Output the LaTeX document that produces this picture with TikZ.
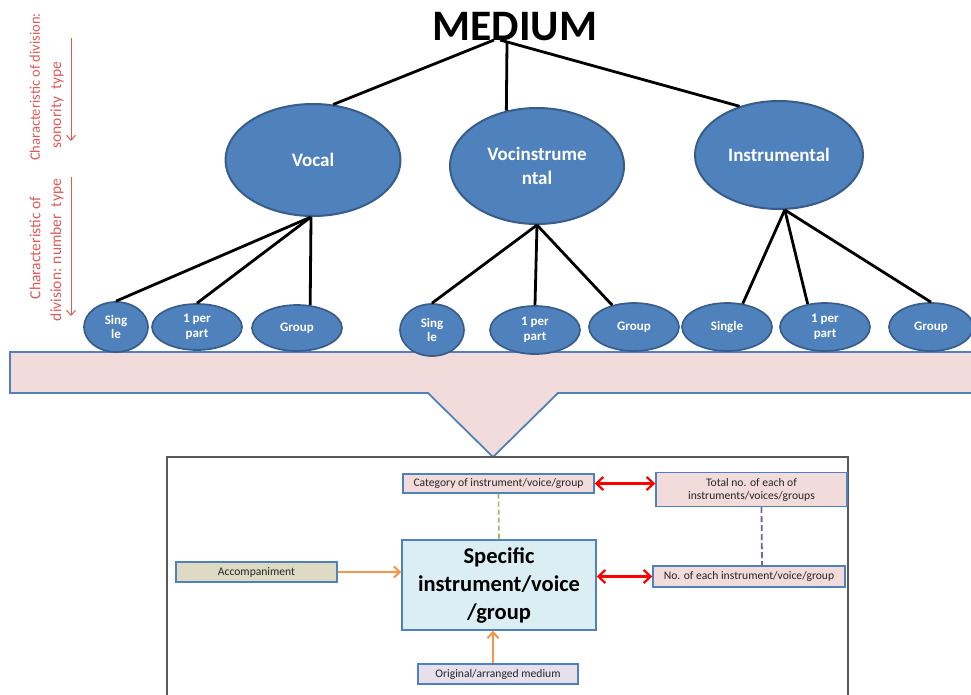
\documentclass[tikz,border=0pt]{standalone}
\usepackage{fontspec}
\setmainfont{Carlito}
\usetikzlibrary{arrows.meta,shapes.geometric}
\definecolor{ellfill}{HTML}{4F81BD}
\definecolor{elldraw}{HTML}{385D8A}
\definecolor{pinkfill}{HTML}{F2DCDB}
\definecolor{boxdraw}{HTML}{4F81BD}
\definecolor{specfill}{HTML}{DAEEF3}
\definecolor{accfill}{HTML}{DDD9C3}
\definecolor{origfill}{HTML}{E5E0EC}
\definecolor{redtxt}{HTML}{DE5A5A}
\definecolor{orangearr}{HTML}{F79646}
\definecolor{greendash}{HTML}{9BBB59}
\definecolor{purpledash}{HTML}{7D5FA8}
\definecolor{framegray}{HTML}{595959}
\begin{document}
\begin{tikzpicture}[x=1pt,y=-1pt,
  bigell/.style={ellipse, fill=ellfill, draw=elldraw, line width=2pt, inner sep=0pt,
     text=white, font=\fontsize{19}{24}\selectfont\bfseries, align=center},
  smallell/.style={ellipse, fill=ellfill, draw=elldraw, line width=1.7pt, inner sep=0pt,
     text=white, font=\fontsize{13}{14.5}\selectfont\bfseries, align=center},
  infobox/.style={rectangle, draw=boxdraw, line width=1.4pt, inner sep=0pt,
     text=black!85, font=\fontsize{11.6}{13}\selectfont, align=center},
  treeline/.style={line width=2.8pt, black},
  redlbl/.style={rotate=90, text=redtxt, font=\fontsize{15.5}{18}\selectfont, inner sep=0pt},
  redarrow/.style={redtxt, line width=1pt, -{Straight Barb[length=5pt,width=9pt]}},
  dblred/.style={red, line width=2.2pt, {Straight Barb[length=7pt,width=13pt]}-{Straight Barb[length=7pt,width=13pt]}},
  orangearrow/.style={orangearr, line width=2pt, -{Straight Barb[length=6pt,width=11pt]}}
]
\useasboundingbox (0,0) rectangle (971,694);

% title
\node[anchor=base, inner sep=0pt, font=\fontsize{43.5}{46}\selectfont\bfseries] (title) at (515,40) {MEDIUM};
\coordinate (h1) at (494,40);
\coordinate (h2) at (507,42);
\coordinate (h3) at (500,40);

% left rotated labels
\node[redlbl, font=\fontsize{14.5}{18}\selectfont] (l1a) at (35,87) {Characteristic of division:};
\node[redlbl] (l1b) at (57,105) {sonority\ \ type};
\node[redlbl] (l2a) at (35,248) {Characteristic of};
\node[redlbl] (l2b) at (57,250) {division: number\ \ type};
\coordinate (a1s) at (71,38);
\coordinate (a1e) at (71,141);
\coordinate (a2s) at (71,177);
\coordinate (a2e) at (71,316);
\draw[redarrow] (a1s) -- (a1e);
\draw[redarrow] (a2s) -- (a2e);

% big ellipses
\node[bigell, minimum width=175pt, minimum height=112pt] (vocal) at (313,160) {Vocal};
\node[bigell, minimum width=174pt, minimum height=116pt] (vocin) at (537,166) {Vocinstrume\\ntal};
\node[bigell, minimum width=168pt, minimum height=108pt] (instr) at (779,155) {Instrumental};

\draw[treeline] (h1) -- (vocal.70);
\draw[treeline] (h2) -- (vocin.119);
\draw[treeline] (h3) -- (instr.129);

% banner
\fill[pinkfill, draw=boxdraw, line width=1.8pt]
  (10,352) -- (980,352) -- (980,393) -- (558,393) -- (493,457) -- (428,393) -- (10,393) -- cycle;

% small ellipses
\node[smallell, minimum width=64pt, minimum height=50pt] (s1) at (116,327) {Sing\\le};
\node[smallell, minimum width=90pt, minimum height=46pt] (p1) at (197,327) {1 per\\part};
\node[smallell, minimum width=90pt, minimum height=46pt] (g1) at (297,328) {Group};
\node[smallell, minimum width=64pt, minimum height=52pt] (s2) at (432,330) {Sing\\le};
\node[smallell, minimum width=90pt, minimum height=48pt] (p2) at (535,330) {1 per\\part};
\node[smallell, minimum width=90pt, minimum height=48pt] (g2) at (634,327) {Group};
\node[smallell, minimum width=90pt, minimum height=48pt] (s3) at (727,327) {Single};
\node[smallell, minimum width=90pt, minimum height=48pt] (p3) at (825,327) {1 per\\part};
\node[smallell, minimum width=84pt, minimum height=48pt] (g3) at (931,327) {Group};

\draw[treeline] (vocal.268) -- (s1.north);
\draw[treeline] (vocal.268) -- (p1.north);
\draw[treeline] (vocal.268) -- (g1.60);
\draw[treeline] (vocin.south) -- (s2.north);
\draw[treeline] (vocin.south) -- (p2.north);
\draw[treeline] (vocin.south) -- (g2.135);
\draw[treeline] (instr.-84) -- (s3.56);
\draw[treeline] (instr.-84) -- (p3.127);
\draw[treeline] (instr.-84) -- (g3.north);

% frame
\draw[framegray, line width=1.8pt, fill=white] (167,457) rectangle (848,700);

% bottom boxes
\node[infobox, fill=pinkfill, minimum width=191pt, minimum height=19pt] (cat) at (498.5,483.5) {Category of instrument/voice/group};
\node[infobox, fill=pinkfill, minimum width=191pt, minimum height=34pt] (total) at (751.5,489.5) {Total no. of each of\\instruments/voices/groups};
\node[infobox, fill=pinkfill, minimum width=192pt, minimum height=21pt] (noeach) at (749,576.5) {No. of each instrument/voice/group};
\node[infobox, fill=specfill, minimum width=194pt, minimum height=90pt, font=\fontsize{22.5}{28}\selectfont\bfseries, text=black] (spec) at (499,585) {Specific\\instrument/voice\\/group};
\node[infobox, fill=accfill, minimum width=161pt, minimum height=20pt] (acc) at (256.5,572) {Accompaniment};
\node[infobox, fill=origfill, minimum width=160pt, minimum height=20pt] (orig) at (498,674) {Original/arranged medium};

\draw[greendash, line width=1.6pt, dash pattern=on 5pt off 3pt] (cat.south) -- (spec.north);
\draw[purpledash, line width=1.8pt, dash pattern=on 6pt off 3pt] ([xshift=10pt]total.south) -- ([xshift=13pt]noeach.north);
\draw[dblred] (cat.east) -- (cat.east -| total.west);
\draw[dblred] (noeach.west -| spec.east) -- (noeach.west);
\draw[orangearrow] (acc.east) -- (acc.east -| spec.west);
\draw[orangearrow] ([xshift=-5pt]orig.north) -- ([xshift=-5pt]orig.north |- spec.south);
\end{tikzpicture}
\end{document}
